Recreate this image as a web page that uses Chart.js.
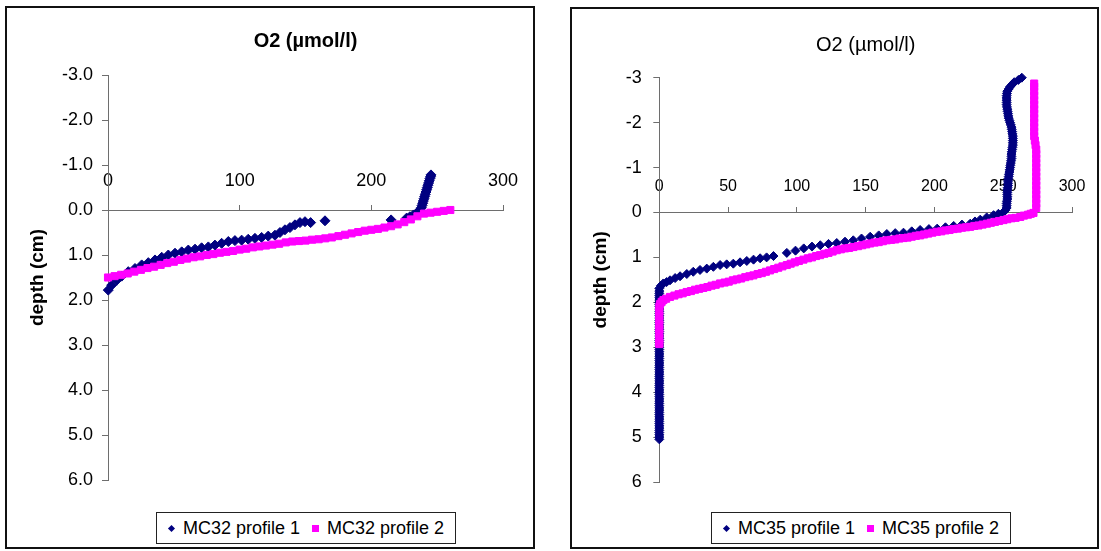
<!DOCTYPE html>
<html>
<head>
<meta charset="utf-8">
<script src="https://cdn.jsdelivr.net/npm/chart.js@4/dist/chart.umd.min.js"></script>
<style>
body{margin:0;background:#fff;font-family:"Liberation Sans",Arial,sans-serif;}
.box{position:absolute;border:2px solid #111;box-sizing:border-box;background:#fff;}
.box canvas{position:absolute;left:0;top:0;}
.legend{position:absolute;border:1px solid #222;box-sizing:border-box;background:#fff;
  display:flex;align-items:center;justify-content:center;font-size:18px;color:#000;white-space:nowrap;}
.legend .item{display:flex;align-items:center;}
.legend .item + .item{margin-left:12px;}
.mk{display:inline-block;margin-right:8px;}
.mk.dia{width:5px;height:5px;transform:rotate(45deg);margin-left:1px;margin-right:9px;}
.mk.sq{width:7px;height:7px;}
</style>
</head>
<body>
<div class="box" style="left:5px;top:6px;width:530px;height:543px;"><canvas id="mc32" width="526" height="539"></canvas></div>
<div class="box" style="left:570px;top:7px;width:529px;height:542px;"><canvas id="mc35" width="525" height="538"></canvas></div>
<div class="legend" id="leg32" style="left:156px;top:512px;width:300px;height:32px;"></div>
<div class="legend" id="leg35" style="left:711px;top:512px;width:300px;height:32px;"></div>
<script>
// O2 (umol/l) against depth (cm), one pair of profiles per core
const mc32p1Depth = [-0.78,-0.74,-0.70,-0.65,-0.60,-0.55,-0.50,-0.45,-0.40,-0.35,-0.30,-0.25,-0.20,-0.15,-0.10,-0.05,0.00,
  0.04,0.07,0.11,0.15,0.18,0.22,0.24,0.28,
  0.26,0.28,0.33,0.39,0.44,0.50,0.56,0.58,0.61,0.63,0.65,0.67,0.68,0.70,0.74,0.78,0.82,0.84,0.87,0.89,0.93,0.96,
  1.00,1.05,1.11,1.17,1.22,1.30,1.37,1.47,1.56,1.67,1.78];
const mc32p1O2 = [245.3,245,244.5,244,243.5,243,242.5,242,241.5,241,240.5,240,239.5,239,238.5,238,237,
  235.5,234.4,232,229.3,226.8,215,164.8,153.9,
  149.6,145.8,142,138.2,134.4,130.6,126.8,121.7,116.7,111.6,106.5,101.5,96.4,91.4,86.3,81.2,76.2,71.1,66.1,61,56,50.9,
  45.8,40.8,35.7,30.6,25.6,20.5,15.4,10.4,6.6,2.8,0.2];

const mc32p2Depth = [1.50,1.47,1.44,1.41,1.37,1.33,1.29,1.26,1.22,1.18,1.15,1.11,1.08,1.05,1.03,1.00,0.98,0.95,0.93,0.91,
  0.88,0.86,0.83,0.81,0.79,0.77,0.75,0.72,0.70,0.69,0.68,0.66,0.65,0.63,0.61,0.58,0.55,0.52,0.49,0.46,
  0.44,0.42,0.39,0.36,0.32,0.27,0.21,0.14,0.08,0.06,0.04,0.02,0.00];
const mc32p2O2 = [0,5,10,15,20,25,30,35,40,45,50,55,60,65,70,75,80,85,90,95,
  100,105,110,115,120,125,130,135,140,145,150,155,160,165,170,175,180,185,190,195,
  200,205,210,215,220,225,230,235,240,245,250,255,260];

const mc35p1Depth = [-3.00,-2.95,-2.90,-2.85,-2.80,-2.75,-2.70,-2.65,-2.60,-2.55,-2.50,-2.45,-2.40,-2.35,-2.30,-2.25,
  -2.20,-2.15,-2.10,-2.05,-2.00,-1.95,-1.90,-1.85,-1.80,-1.75,-1.70,-1.65,-1.60,-1.55,-1.50,-1.45,
  -1.40,-1.35,-1.30,-1.25,-1.20,-1.15,-1.10,-1.05,-1.00,-0.95,-0.90,-0.85,-0.80,-0.75,-0.70,-0.65,
  -0.60,-0.55,-0.50,-0.45,-0.40,-0.35,-0.30,-0.25,-0.20,-0.15,-0.10,-0.05,0.00,
  0.03,0.06,0.11,0.16,0.20,0.25,0.27,0.30,0.33,0.36,0.37,0.39,0.42,0.45,0.46,0.48,0.51,0.54,0.58,0.62,
  0.65,0.68,0.70,0.73,0.76,0.80,0.85,0.90,0.97,1.00,1.02,1.05,1.08,1.11,1.14,1.155,1.17,1.21,1.25,1.28,
  1.32,1.37,1.42,1.46,1.51,1.55,1.58,1.63,1.69,
  1.75,1.80,1.85,1.90,1.95,2.00,2.05,2.10,2.15,2.20,2.25,2.30,2.35,2.40,2.45,2.50,2.55,2.60,2.65,2.70,
  2.75,2.80,2.85,2.90,2.95,3.00,3.05,3.10,3.15,3.20,3.25,3.30,3.35,3.40,3.45,3.50,3.55,3.60,3.65,3.70,
  3.75,3.80,3.85,3.90,3.95,4.00,4.05,4.10,4.15,4.20,4.25,4.30,4.35,4.40,4.45,4.50,4.55,4.60,4.65,4.70,
  4.75,4.80,4.85,4.90,4.95,5.00,5.05];
const mc35p1O2 = [263.5,261,258,256.5,255,254,253,252.7,252.5,252.5,252.5,252.5,252.5,252.7,253,253.2,
  253.5,253.7,254,254.5,255,255.5,256,256.2,256.5,256.7,257,257,257,257,257,256.7,
  256.5,256.2,256,256,256,255.7,255.5,255.2,255,254.7,254.5,254.2,254,253.7,253.5,253.5,
  253.5,253.2,253,253,253,253,253,252.7,252.5,252.5,252.5,251.5,250,
  246.5,243,238,233.3,229.5,226,220,214,208,202,196,189.6,183.5,177.5,171.5,165.4,159.5,153.3,147,141,
  135,129,123,117,111,105,99,92.7,83,78,73.3,68.5,63.6,58.7,53.8,49,44.2,39.3,34.5,29.6,
  24.7,20,15.1,11.5,7.8,5.3,2.9,1.2,0,
  0,0,0,0,0,0,0,0,0,0,0,0,0,0,0,0,0,0,0,0,
  0,0,0,0,0,0,0,0,0,0,0,0,0,0,0,0,0,0,0,0,
  0,0,0,0,0,0,0,0,0,0,0,0,0,0,0,0,0,0,0,0,
  0,0,0,0,0,0,0];

const mc35p2Depth = [-2.87,-2.8,-2.7,-2.6,-2.5,-2.4,-2.3,-2.2,-2.1,-2.0,-1.9,-1.8,-1.7,-1.6,-1.5,
  -1.4,-1.3,-1.2,-1.1,-1.0,-0.9,-0.8,-0.7,-0.6,-0.5,-0.4,-0.3,-0.2,-0.1,
  0.01,0.03,0.05,0.07,0.10,0.12,0.13,0.15,0.17,0.19,0.21,0.23,0.25,0.27,0.29,0.30,0.32,0.33,0.34,0.36,
  0.37,0.39,0.40,0.42,0.43,0.45,0.47,0.49,0.51,0.52,0.54,0.56,0.57,0.58,0.60,0.61,0.62,0.64,0.66,0.67,
  0.69,0.71,0.73,0.75,0.77,0.79,0.80,0.82,0.84,0.87,0.90,0.92,0.95,0.97,1.00,1.02,1.05,1.08,1.11,1.14,
  1.17,1.20,1.23,1.26,1.29,1.32,1.35,1.37,1.40,1.42,1.44,1.47,1.49,1.51,1.54,1.56,1.58,1.61,1.63,1.66,
  1.68,1.70,1.72,1.75,1.77,1.80,1.82,1.85,1.88,1.92,1.95,1.99,2.04,2.10,
  2.2,2.3,2.4,2.5,2.6,2.7,2.8,2.9,2.93];
const mc35p2O2 = [272.5,272.5,272.5,272.5,272.5,272.5,272.5,272.5,272.5,272.5,272.5,272.5,272.5,273,273.5,
  274,274,274,274,274,274,274,274,274,274,274,274,274,274,
  272,270,268,265,262.4,259,256,253,250.2,247,244,241,238.2,235,232,229,226,223,220,217,
  213.9,211,208,205,201.8,198.5,195.5,192.5,189.6,186.5,183.5,180.5,177.5,174.5,171.5,168.5,165.4,162.5,159.5,156.5,
  153.3,150.5,147.5,144.5,141.1,138,135,132,129,126,123,120,116.9,114,111,108,104.8,101.5,98.5,95.5,
  92.7,89.5,86.5,83.5,80.5,77.5,74.5,71.5,68.4,65.5,62.5,59.5,56.3,53.5,50.5,47.5,44.2,41,38,35,
  32,29,26,23,19.9,17,14,11,7.8,5,3,1.7,0.5,0,
  0,0,0,0,0,0,0,0,0];

const NAVY = '#000080';
const PINK = '#ff00ff';
const AXIS = '#6e6e6e';

Chart.defaults.font.family = '"Liberation Sans", Arial, sans-serif';
Chart.defaults.color = '#000';

function pairs(xs, ys) {
  return xs.map((x, i) => ({x: x, y: ys[i]}));
}

function series(label, xs, ys, color, style, radius, order) {
  return {
    label: label,
    data: pairs(xs, ys),
    pointStyle: style,
    pointRadius: radius,
    pointBorderWidth: 1,
    pointBackgroundColor: color,
    pointBorderColor: color,
    backgroundColor: color,
    borderColor: color,
    order: order,
    clip: false
  };
}

function profileChart(id, cfg) {
  const yTicks = {stepSize: 1, padding: cfg.yPad, font: {size: 18}, color: '#000'};
  if (cfg.yFormat) yTicks.callback = cfg.yFormat;
  return new Chart(document.getElementById(id).getContext('2d'), {
    type: 'scatter',
    data: {datasets: cfg.datasets},
    options: {
      responsive: false,
      animation: false,
      devicePixelRatio: 1,
      events: [],
      layout: {padding: cfg.padding},
      plugins: {
        legend: {display: false},
        tooltip: {enabled: false},
        title: {
          display: true,
          text: 'O2 (µmol/l)',
          fullSize: false,
          color: '#000',
          font: {size: 20, weight: cfg.titleWeight},
          padding: cfg.titlePad
        }
      },
      scales: {
        x: {
          type: 'linear',
          position: {y: 0},
          min: 0,
          max: 300,
          ticks: {stepSize: cfg.xStep, padding: cfg.xPad, font: {size: cfg.xFont}, color: '#000', maxRotation: 0, autoSkip: false},
          grid: {drawOnChartArea: false, tickLength: -6, color: AXIS},
          border: {color: AXIS, width: 1}
        },
        y: {
          type: 'linear',
          position: 'left',
          reverse: true,
          min: -3,
          max: 6,
          afterFit: (s) => { s.width = cfg.yWidth; },
          ticks: yTicks,
          grid: {drawOnChartArea: false, tickLength: 6, color: AXIS},
          border: {color: AXIS, width: 1},
          title: {display: true, text: 'depth (cm)', color: '#000', font: {size: 19, weight: 'bold'}, padding: 0}
        }
      }
    }
  });
}

function htmlLegend(elId, chart) {
  const el = document.getElementById(elId);
  chart.data.datasets.forEach((ds) => {
    const item = document.createElement('span');
    item.className = 'item';
    const mk = document.createElement('span');
    mk.className = 'mk ' + (ds.pointStyle === 'rectRot' ? 'dia' : 'sq');
    mk.style.background = ds.pointBackgroundColor;
    const txt = document.createElement('span');
    txt.textContent = ds.label;
    item.appendChild(mk);
    item.appendChild(txt);
    el.appendChild(item);
  });
}

const chart32 = profileChart('mc32', {
  datasets: [
    series('MC32 profile 1', mc32p1O2, mc32p1Depth, NAVY, 'rectRot', 5, 1),
    series('MC32 profile 2', mc32p2O2, mc32p2Depth, PINK, 'rect', 5, 0)
  ],
  padding: {left: 19.6, right: 30, top: 0, bottom: 67},
  yWidth: 81.4,
  yPad: 9,
  yFormat: (v) => v.toFixed(1),
  xStep: 100,
  xFont: 18,
  xPad: -34,
  titleWeight: 'bold',
  titlePad: {top: 21, bottom: 22}
});

const chart35 = profileChart('mc35', {
  datasets: [
    series('MC35 profile 1', mc35p1O2, mc35p1Depth, NAVY, 'rectRot', 4.5, 1),
    series('MC35 profile 2', mc35p2O2, mc35p2Depth, PINK, 'rect', 5, 0)
  ],
  padding: {left: 17.6, right: 25, top: 0, bottom: 65},
  yWidth: 69.7,
  yPad: 11.5,
  xStep: 50,
  xFont: 16,
  xPad: -29.9,
  titleWeight: 'normal',
  titlePad: {top: 24, bottom: 20.7}
});

htmlLegend('leg32', chart32);
htmlLegend('leg35', chart35);
</script>
</body>
</html>
